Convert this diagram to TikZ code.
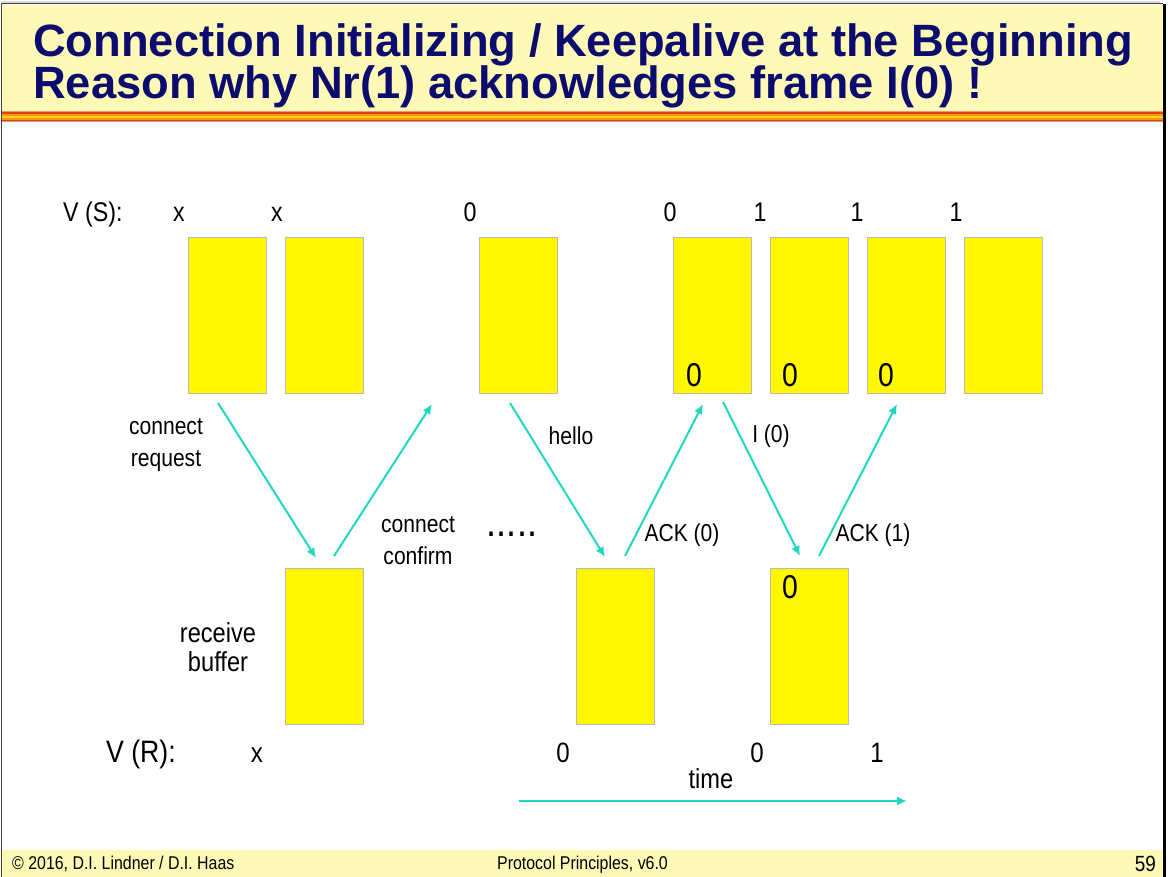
\documentclass[tikz,border=0pt]{standalone}
\usepackage{fontspec}
\setmainfont{Liberation Sans}[FakeStretch=0.86]
\newfontfamily\headfont{Liberation Sans}
\usetikzlibrary{arrows.meta,positioning}
\definecolor{hdr}{HTML}{FFF9B8}
\definecolor{navy}{HTML}{0C0C6E}
\definecolor{buf}{HTML}{FFF700}
\definecolor{sig}{HTML}{20D8C0}
\definecolor{rim}{HTML}{E9967A}
\definecolor{hot}{HTML}{E8400C}
\definecolor{amber}{HTML}{F7941D}
\definecolor{gold}{HTML}{FFD800}

\begin{document}
\begin{tikzpicture}[x=1pt, y=-1pt, >={Latex[length=10pt,width=9pt]}, node distance=19pt,
  frame/.style={draw=gray!55, fill=buf, line width=0.8pt, inner sep=0, outer sep=0, minimum width=78pt, minimum height=156pt},
  seqno/.style={font=\fontsize{27}{30}\selectfont, anchor=base, inner sep=0},
  lbl/.style={font=\fontsize{24.5}{32}\selectfont, align=center, inner sep=0},
  inbox/.style={font=\fontsize{33}{36}\selectfont, inner sep=0},
  msg/.style={->, sig, line width=2pt}]
\useasboundingbox (0,0) rectangle (1168,877);

% slide frame
\fill[hdr] (2,5) rectangle (1163,111);
\fill[hdr] (2,850) rectangle (1163,877);
\foreach \y/\c/\w in {111.8/rim/1, 113.3/hot/2, 115.3/amber/2, 117.3/gold/2.2, 119.3/amber/1.6, 120.6/hot/1.2, 121.8/rim/1}
  \draw[\c, line width=\w pt] (2,\y) -- (1163,\y);
\draw[black!75, line width=1pt] (1.5,877) -- (1.5,4) -- (1163,4);
\draw[black!15, line width=2pt] (2,2) -- (1160,2);
\draw[black, line width=3pt] (1164.5,4) -- (1164.5,877);

\node[anchor=base west, inner sep=0, text=navy, font={\headfont\bfseries\fontsize{45.3}{50}\selectfont}] (title) at (33,57) {Connection Initializing / Keepalive at the Beginning};
\node[anchor=base west, inner sep=0, text=navy, font={\headfont\bfseries\fontsize{45.3}{50}\selectfont}] (subtitle) at (33,99) {Reason why Nr(1) acknowledges frame I(0) !};

\node[anchor=base west, inner sep=0, font=\fontsize{18.5}{20}\selectfont] (copy) at (12,869) {© 2016, D.I. Lindner / D.I. Haas};
\node[anchor=base west, inner sep=0, font=\fontsize{18.5}{20}\selectfont] (course) at (497,869) {Protocol Principles, v6.0};
\node[anchor=base east, inner sep=0, font=\fontsize{22}{24}\selectfont] (page) at (1156,871) {59};

% sender and receiver buffers
\node[frame] (s1) at (227,315) {};
\node[frame, right=of s1] (s2) {};
\node[frame, right=116pt of s2] (s3) {};
\node[frame, right=116pt of s3] (s4) {};
\node[frame, right=of s4] (s5) {};
\node[frame, right=of s5] (s6) {};
\node[frame, right=of s6] (s7) {};
\node[frame, below=175pt of s2] (r1) {};
\node[frame, right=213pt of r1] (r2) {};
\node[frame, right=116pt of r2] (r3) {};

\node[inbox] (z4) at ([shift={(21,-18)}]s4.south west) {0};
\node[inbox] (z5) at ([shift={(20,-18)}]s5.south west) {0};
\node[inbox] (z6) at ([shift={(19,-18)}]s6.south west) {0};
\node[inbox] (z9) at ([shift={(20,19)}]r3.north west) {0};

% state variables
\node[seqno, anchor=base west] (vs) at (63,222) {V (S):};
\foreach \x/\v [count=\i] in {179/x, 277/x, 470/0, 670/0, 760/1, 857/1, 956/1}
  \node[seqno] (vs\i) at (\x,222) {\v};
\node[seqno, anchor=base west, font=\fontsize{31}{34}\selectfont] (vr) at (106,762) {V (R):};
\foreach \x/\v [count=\i] in {257/x, 563/0, 757/0, 877/1}
  \node[seqno, font=\fontsize{28}{30}\selectfont] (vr\i) at (\x,762) {\v};

% frames on the wire
\draw[msg] ([shift={(-9,10)}]s1.south) -- ([shift={(-8,-10)}]r1.north);
\draw[msg] ([shift={(10,-12)}]r1.north) -- ([shift={(-47,11)}]s3.south west);
\draw[msg] ([shift={(-8,10)}]s3.south) -- ([shift={(-10,-11)}]r2.north);
\draw[msg] ([shift={(10,-12)}]r2.north) -- ([shift={(-9,11)}]s4.south);
\draw[msg] ([shift={(11,9)}]s4.south) -- ([shift={(-9,-12)}]r3.north);
\draw[msg] ([shift={(10,-12)}]r3.north) -- ([shift={(-9,11)}]s6.south);

\node[lbl] (creq) at (166,445) {connect\\request};
\node[lbl] (ccnf) at (418,541) {connect\\confirm};
\node[lbl] (hello) at (571,436) {hello};
\node[lbl] (i0) at (771,436) {I (0)};
\node[lbl] (ack0) at (682,535) {ACK (0)};
\node[lbl] (ack1) at (873,535) {ACK (1)};
\node[lbl, font=\fontsize{27.5}{29}\selectfont] (rbuf) at (218,647) {receive\\buffer};
\node[anchor=base, inner sep=0, font=\fontsize{42}{42}\selectfont] (gap) at (512,536) {.....};

\coordinate (t0) at (519,801);
\coordinate (t1) at (907,801);
\draw[msg] (t0) -- (t1);
\node[lbl, font=\fontsize{27.5}{30}\selectfont] (time) at (711,779) {time};
\end{tikzpicture}
\end{document}
